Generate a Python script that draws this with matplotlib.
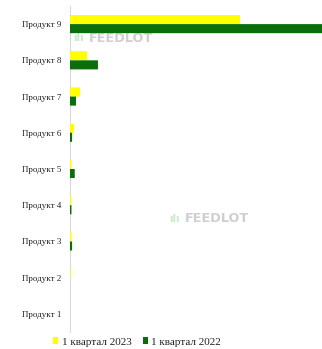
import matplotlib
matplotlib.use("Agg")
import matplotlib.pyplot as plt
import numpy as np
from matplotlib.patches import Patch

categories = ["Продукт 1", "Продукт 2", "Продукт 3", "Продукт 4", "Продукт 5",
              "Продукт 6", "Продукт 7", "Продукт 8", "Продукт 9"]
q1_2023 = [0.0, 0.45, 0.7, 0.6, 0.7, 1.7, 4.1, 6.9, 67.5]
q1_2022 = [0.0, 0.0, 0.95, 0.7, 2.0, 0.95, 2.5, 11.2, 100.0]
series_names = ["1 квартал 2023", "1 квартал 2022"]

W, H = 322, 349
fig = plt.figure(figsize=(W / 100, H / 100), dpi=100)
fig.patch.set_facecolor("white")
ax = fig.add_axes([69.7 / W, (H - 332) / H, 1 - 69.7 / W, (332 - 6) / H])

y = np.arange(len(categories))
h = 0.25
c_y = "#FFFF00"
c_g = "#0B6E0B"
ax.barh(y + h / 2, q1_2023, height=h, color=c_y, snap=False)
ax.barh(y - h / 2, q1_2022, height=h, color=c_g, snap=False)

ax.set_ylim(-0.5, len(categories) - 0.5)
ax.set_xlim(0, 100)
ax.set_yticks(y)
ax.set_yticklabels(categories, fontfamily="Liberation Serif", fontsize=6.5, color="#222222")
ax.tick_params(axis="y", length=0, pad=6)
ax.set_xticks([])
for s in ["top", "right", "bottom"]:
    ax.spines[s].set_visible(False)
ax.spines["left"].set_color("#d9d9d9")
ax.spines["left"].set_linewidth(0.8)
ax.spines["left"].set_zorder(0.5)

# watermarks
for (xw, yw) in [(73, 38), (169, 219)]:
    fig.text(xw / W, 1 - yw / H, "ılı", fontsize=7, color="#7fd17f", alpha=0.45,
             va="center", ha="left", fontweight="bold")
    fig.text((xw + 16) / W, 1 - yw / H, "FEEDLOT", fontsize=9.3, color="#a8a8a8",
             alpha=0.55, va="center", ha="left", fontweight="bold")

handles = [Patch(facecolor=c_y, edgecolor="none"), Patch(facecolor=c_g, edgecolor="none")]
fig.legend(handles, series_names, loc="center", bbox_to_anchor=(137 / W, 1 - 342 / H),
           ncol=2, frameon=False, prop={"family": "Liberation Serif", "size": 8},
           handlelength=0.5, handleheight=0.5, handletextpad=0.3, columnspacing=1.0,
           labelcolor="#222222")

fig.savefig("out.png", dpi=100)
